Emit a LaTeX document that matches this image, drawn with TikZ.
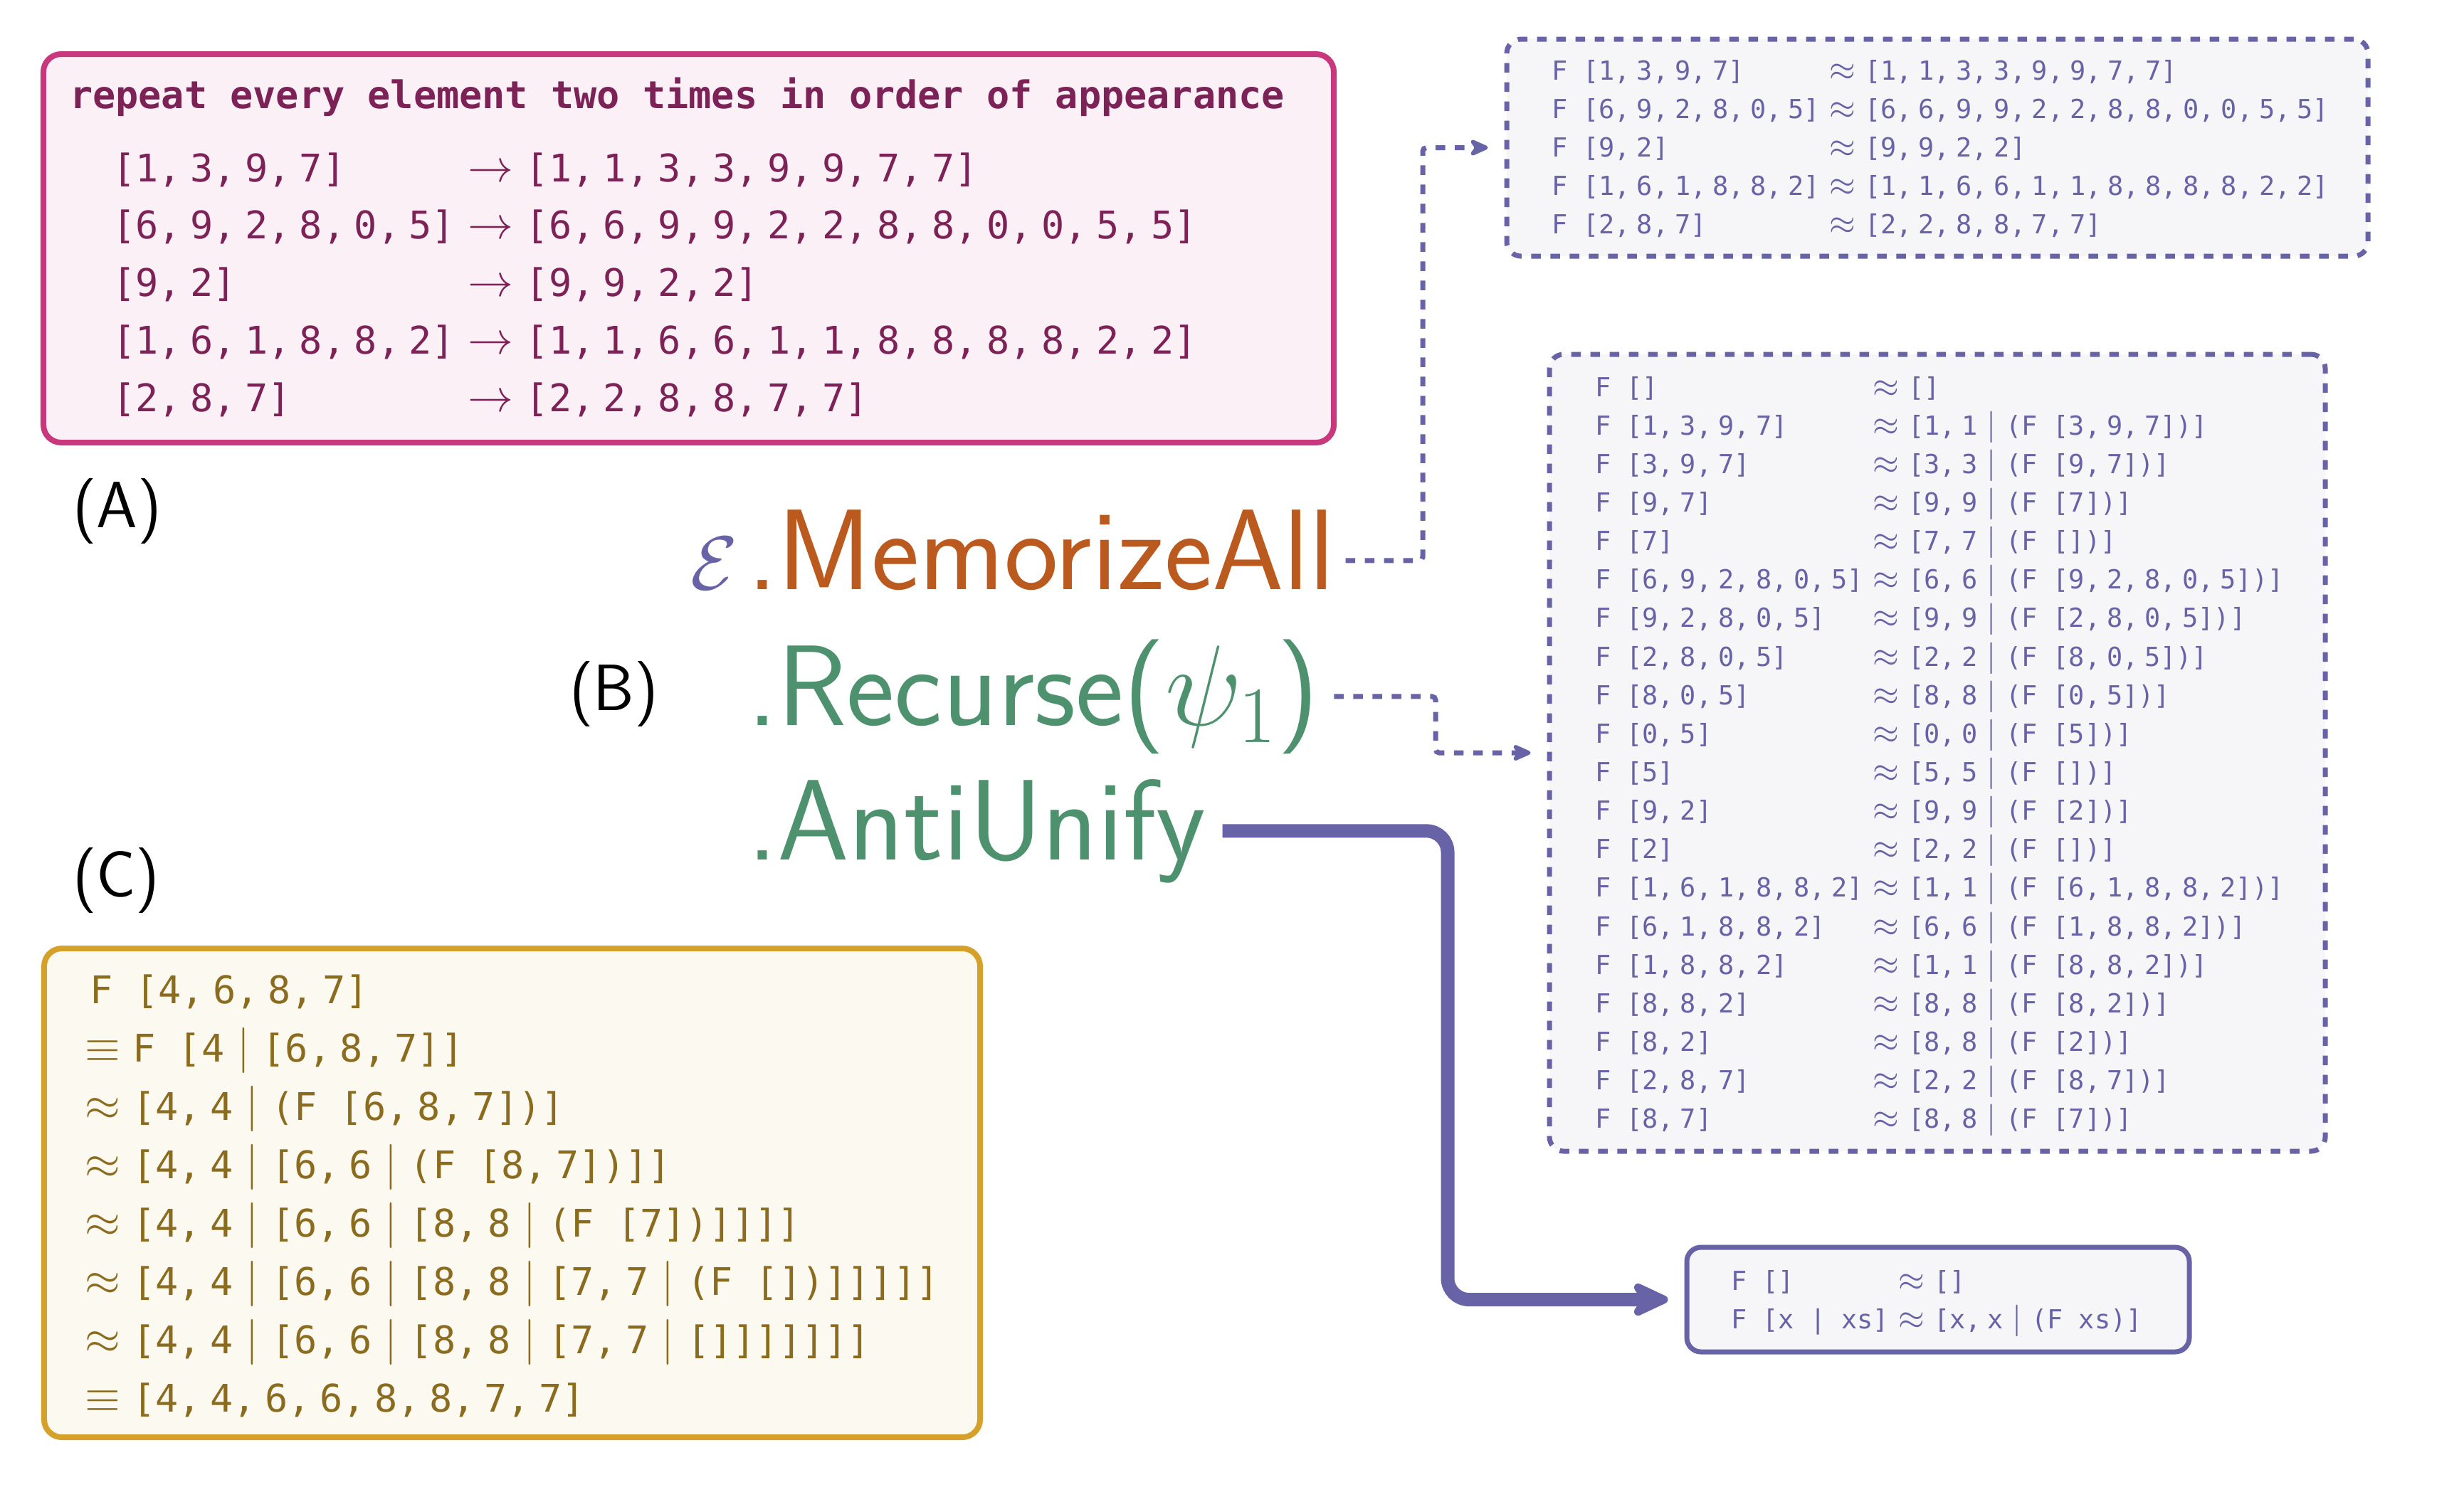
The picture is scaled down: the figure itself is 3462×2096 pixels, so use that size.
\RequirePackage{fix-cm}
\documentclass[tikz,border=0pt]{standalone}
\usepackage{fontspec}
\setmonofont{DejaVu Sans Mono}
\usetikzlibrary{arrows.meta}
\definecolor{pinkc}{HTML}{C7387C}
\definecolor{pinkbg}{HTML}{FBF0F6}
\definecolor{pinktx}{HTML}{7D2257}
\definecolor{goldc}{HTML}{D6A12A}
\definecolor{goldbg}{HTML}{FCF9F1}
\definecolor{goldtx}{HTML}{8B6C1F}
\definecolor{purp}{HTML}{6863A6}
\definecolor{purpbg}{HTML}{F6F6F9}
\definecolor{orng}{HTML}{BB5A1F}
\definecolor{grn}{HTML}{4E916F}
\def\msz{12.8}
\def\kcsp{2.5pt}
\newcommand\mth[1]{{\fontsize{\msz}{0}\selectfont$#1$}}
\newcommand\kc{,\hspace{\kcsp}}
\newcommand\vmid{\mth{{}\mid{}}}
\newcommand\apx{\mth{{}\approx{}}}
\newcommand\arr{\mth{{}\to{}}}
\newcommand\eqv{\mth{\equiv{}}}
\newcommand\apl{\mth{\approx{}}}
\begin{document}
\begin{tikzpicture}[x=0.2pt, y=-0.2pt,
  txt/.style={anchor=base west, inner sep=0pt},
  bigmono/.style={font=\ttfamily\fontsize{10.7}{16.15}\selectfont\def\msz{12.8}\def\kcsp{2.5pt}},
  smallmono/.style={font=\ttfamily\fontsize{7.38}{10.83}\selectfont\def\msz{8.9}\def\kcsp{1.75pt}, text=purp},
  pinkbox/.style={draw=pinkc, fill=pinkbg, line width=1.6pt, rounded corners=5pt, inner sep=0pt},
  goldbox/.style={draw=goldc, fill=goldbg, line width=1.6pt, rounded corners=5pt, inner sep=0pt},
  dashbox/.style={draw=purp, fill=purpbg, line width=1.4pt, dash pattern=on 2.7pt off 2.7pt, rounded corners=4pt, inner sep=0pt},
  solidbox/.style={draw=purp, fill=purpbg, line width=1.4pt, rounded corners=4pt, inner sep=0pt},
  label/.style={anchor=base west, inner sep=0pt, font=\sffamily\fontsize{18.4}{22}\selectfont},
  chain/.style={anchor=base west, inner sep=0pt, font=\sffamily\fontsize{32.2}{38}\selectfont},
  dconn/.style={draw=purp, line width=1.4pt, dash pattern=on 2.7pt off 2.7pt, rounded corners=1pt,
    -{Stealth[length=6.6pt, width=5.8pt, inset=2pt, round]}, shorten >=4.6pt},
  tconn/.style={draw=purp, line width=3.8pt, rounded corners=6pt,
    -{Stealth[length=13pt, width=12pt, inset=4pt, round]}, shorten >=4.6pt}
]
\fill[white] (0,0) rectangle (3462,2096);
\useasboundingbox (0,0) rectangle (3462,2096);

% ---------- boxes ----------
\node[pinkbox, minimum width=362.6pt, minimum height=109.2pt] (boxA) at (967.5,349) {};
\node[goldbox, minimum width=263pt, minimum height=137.4pt] (boxC) at (719.5,1676.5) {};
\node[dashbox, minimum width=242pt, minimum height=61pt] (box1) at (2722,207.5) {};
\node[dashbox, minimum width=218pt, minimum height=224pt] (box2) at (2722,1058) {};
\node[solidbox, minimum width=141.2pt, minimum height=29.4pt] (box3) at (2723,1826.5) {};

% ---------- box A ----------
\node[txt, bigmono, text=pinktx] (titleA) at (97,152.6) {\textbf{repeat every element two times in order of appearance}};
\node[txt, bigmono, text=pinktx] (rowsA) at (157,255) {\begin{tabular}[t]{@{}l@{}l@{}}
[1\kc3\kc9\kc7] & \arr[1\kc1\kc3\kc3\kc9\kc9\kc7\kc7]\\
\relax[6\kc9\kc2\kc8\kc0\kc5] & \arr[6\kc6\kc9\kc9\kc2\kc2\kc8\kc8\kc0\kc0\kc5\kc5]\\
\relax[9\kc2] & \arr[9\kc9\kc2\kc2]\\
\relax[1\kc6\kc1\kc8\kc8\kc2] & \arr[1\kc1\kc6\kc6\kc1\kc1\kc8\kc8\kc8\kc8\kc2\kc2]\\
\relax[2\kc8\kc7] & \arr[2\kc2\kc8\kc8\kc7\kc7]
\end{tabular}};

% ---------- box C ----------
\node[txt, bigmono, font=\ttfamily\fontsize{10.7}{16.4}\selectfont, text=goldtx] (rowsC) at (118,1410) {\begin{tabular}[t]{@{}l@{}}
\hspace{1.4pt}F [4\kc6\kc8\kc7]\\
\eqv F [4\vmid[6\kc8\kc7]]\\
\apl[4\kc4\vmid(F [6\kc8\kc7])]\\
\apl[4\kc4\vmid[6\kc6\vmid(F [8\kc7])]]\\
\apl[4\kc4\vmid[6\kc6\vmid[8\kc8\vmid(F [7])]]]]\\
\apl[4\kc4\vmid[6\kc6\vmid[8\kc8\vmid[7\kc7\vmid(F [])]]]]]\\
\apl[4\kc4\vmid[6\kc6\vmid[8\kc8\vmid[7\kc7\vmid[]]]]]]]\\
\eqv[4\kc4\kc6\kc6\kc8\kc8\kc7\kc7]
\end{tabular}};

% ---------- box 1 ----------
\node[txt, smallmono] (rows1) at (2179,112) {\begin{tabular}[t]{@{}l@{}l@{}}
F [1\kc3\kc9\kc7] & \apx[1\kc1\kc3\kc3\kc9\kc9\kc7\kc7]\\
F [6\kc9\kc2\kc8\kc0\kc5] & \apx[6\kc6\kc9\kc9\kc2\kc2\kc8\kc8\kc0\kc0\kc5\kc5]\\
F [9\kc2] & \apx[9\kc9\kc2\kc2]\\
F [1\kc6\kc1\kc8\kc8\kc2] & \apx[1\kc1\kc6\kc6\kc1\kc1\kc8\kc8\kc8\kc8\kc2\kc2]\\
F [2\kc8\kc7] & \apx[2\kc2\kc8\kc8\kc7\kc7]
\end{tabular}};

% ---------- box 2 ----------
\node[txt, smallmono] (rows2) at (2240,557) {\begin{tabular}[t]{@{}l@{}l@{}}
F [] & \apx[]\\
F [1\kc3\kc9\kc7] & \apx[1\kc1\vmid(F [3\kc9\kc7])]\\
F [3\kc9\kc7] & \apx[3\kc3\vmid(F [9\kc7])]\\
F [9\kc7] & \apx[9\kc9\vmid(F [7])]\\
F [7] & \apx[7\kc7\vmid(F [])]\\
F [6\kc9\kc2\kc8\kc0\kc5] & \apx[6\kc6\vmid(F [9\kc2\kc8\kc0\kc5])]\\
F [9\kc2\kc8\kc0\kc5] & \apx[9\kc9\vmid(F [2\kc8\kc0\kc5])]\\
F [2\kc8\kc0\kc5] & \apx[2\kc2\vmid(F [8\kc0\kc5])]\\
F [8\kc0\kc5] & \apx[8\kc8\vmid(F [0\kc5])]\\
F [0\kc5] & \apx[0\kc0\vmid(F [5])]\\
F [5] & \apx[5\kc5\vmid(F [])]\\
F [9\kc2] & \apx[9\kc9\vmid(F [2])]\\
F [2] & \apx[2\kc2\vmid(F [])]\\
F [1\kc6\kc1\kc8\kc8\kc2] & \apx[1\kc1\vmid(F [6\kc1\kc8\kc8\kc2])]\\
F [6\kc1\kc8\kc8\kc2] & \apx[6\kc6\vmid(F [1\kc8\kc8\kc2])]\\
F [1\kc8\kc8\kc2] & \apx[1\kc1\vmid(F [8\kc8\kc2])]\\
F [8\kc8\kc2] & \apx[8\kc8\vmid(F [8\kc2])]\\
F [8\kc2] & \apx[8\kc8\vmid(F [2])]\\
F [2\kc8\kc7] & \apx[2\kc2\vmid(F [8\kc7])]\\
F [8\kc7] & \apx[8\kc8\vmid(F [7])]
\end{tabular}};

% ---------- box 3 ----------
\node[txt, smallmono] (rows3) at (2431,1813) {\begin{tabular}[t]{@{}l@{}l@{}}
F [] & \apx[]\\
F [x | xs] & \apx[x\kc x\vmid(F xs)]
\end{tabular}};

% ---------- labels ----------
\node[label] (labA) at (101,741.5) {(A)};
\node[label] (labB) at (799,998.5) {(B)};
\node[label] (labC) at (101,1260) {(C)};

% ---------- chain ----------
\node[chain, text=orng] (mem) at (1049,828) {\llap{\textcolor{purp}{\fontsize{21.4}{24}\selectfont$\mathcal{E}$}\hspace{2.6pt}}.MemorizeAll};
\node[chain, text=grn] (rec) at (1049,1019) {.Recurse($\psi_1$)};
\node[chain, text=grn] (anti) at (1049,1208) {.AntiUnify};

% ---------- connectors ----------
\coordinate (k1) at (1999,500);
\coordinate (k2) at (2017,1020);
\coordinate (k3) at (2034,1500);
\draw[dconn, shorten <=2.8pt] ([yshift=-3pt]mem.east) -| (k1) |- (box1.west);
\draw[dconn, shorten <=4pt] (rec.east) -| (k2) |- (box2.west);
\draw[tconn, shorten <=4.4pt] (anti.east) -| (k3) |- (box3.west);
\end{tikzpicture}
\end{document}
